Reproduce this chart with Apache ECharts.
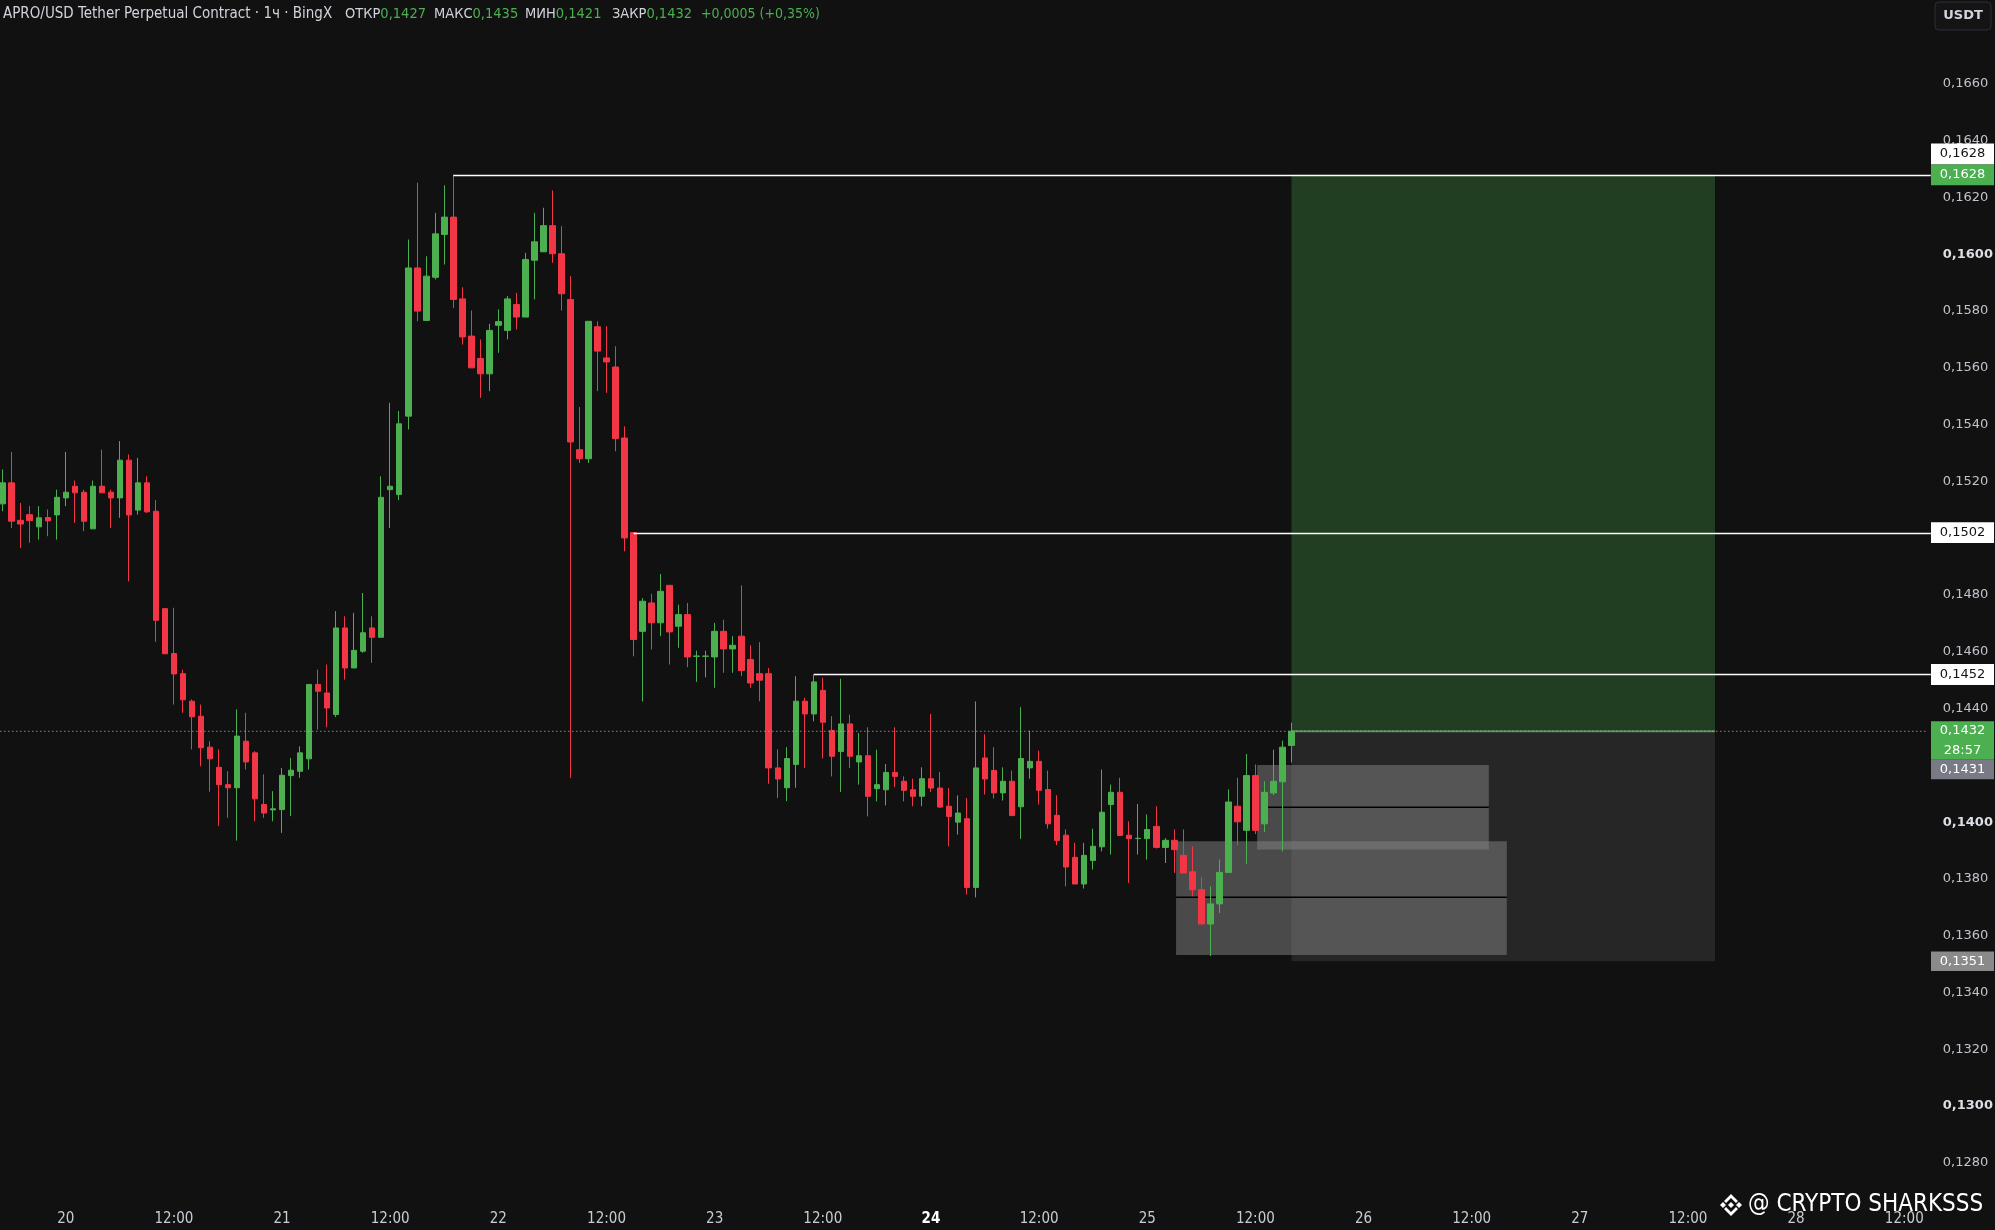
<!DOCTYPE html>
<html><head><meta charset="utf-8">
<script src="https://cdn.jsdelivr.net/npm/echarts@6/dist/echarts.min.js"></script>
<style>html,body{margin:0;padding:0;background:#111111;}#c{width:1995px;height:1230px;}</style>
</head><body><div id="c"></div><script>
// ---------- data ----------
const firstDay = 19, firstHour = 17, hourCount = 214;   // hourly categories: 19th 17:00 .. 28th 14:00
const boldDays = [24];
// [open, close, low, high]
const candles = [
[0.15121,0.15195,0.15095,0.15242],[0.15195,0.15060,0.15036,0.15304],[0.15063,0.15050,0.14966,0.15124],[0.15083,0.15062,0.14984,0.15113],
[0.15040,0.15072,0.14995,0.15113],[0.15073,0.15061,0.15007,0.15101],[0.15082,0.15144,0.14995,0.15171],[0.15142,0.15162,0.15113,0.15304],
[0.15183,0.15160,0.15054,0.15203],[0.15162,0.15060,0.15025,0.15171],[0.15033,0.15183,0.15033,0.15203],[0.15183,0.15160,0.15160,0.15312],
[0.15162,0.15142,0.15036,0.15171],[0.15142,0.15275,0.15072,0.15342],[0.15275,0.15082,0.14848,0.15295],[0.15099,0.15195,0.15083,0.15283],
[0.15195,0.15093,0.15089,0.15218],[0.15095,0.14711,0.14635,0.15134],[0.14752,0.14593,0.14593,0.14752],[0.14594,0.14522,0.14414,0.14755],
[0.14523,0.14431,0.14385,0.14537],[0.14426,0.14371,0.14256,0.14432],[0.14373,0.14262,0.14197,0.14414],[0.14264,0.14223,0.14107,0.14285],
[0.14193,0.14132,0.13986,0.14256],[0.14132,0.14121,0.14015,0.14179],[0.14121,0.14303,0.13935,0.14397],[0.14285,0.14212,0.14185,0.14385],
[0.14244,0.14082,0.14003,0.14250],[0.14062,0.14032,0.14015,0.14168],[0.14043,0.14047,0.14003,0.14109],[0.14044,0.14165,0.13962,0.14191],
[0.14164,0.14183,0.14021,0.14226],[0.14179,0.14244,0.14156,0.14267],[0.14223,0.14485,0.14185,0.14485],[0.14485,0.14461,0.14326,0.14537],
[0.14455,0.14402,0.14334,0.14555],[0.14379,0.14684,0.14370,0.14743],[0.14684,0.14543,0.14502,0.14725],[0.14543,0.14605,0.14543,0.14737],
[0.14602,0.14667,0.14596,0.14807],[0.14684,0.14651,0.14561,0.14725],[0.14651,0.15144,0.14651,0.15218],[0.15171,0.15183,0.15036,0.15477],
[0.15154,0.15403,0.15134,0.15448],[0.15430,0.15952,0.15383,0.16052],[0.15952,0.15800,0.15764,0.16252],[0.15767,0.15923,0.15767,0.15993],
[0.15919,0.16072,0.15911,0.16146],[0.16070,0.16131,0.15964,0.16243],[0.16131,0.15841,0.15811,0.16280],[0.15843,0.15709,0.15682,0.15884],
[0.15712,0.15600,0.15600,0.15802],[0.15633,0.15579,0.15494,0.15700],[0.15579,0.15732,0.15518,0.15755],[0.15750,0.15763,0.15653,0.15806],
[0.15732,0.15843,0.15700,0.15853],[0.15823,0.15779,0.15735,0.15864],[0.15779,0.15982,0.15779,0.16005],[0.15979,0.16044,0.15841,0.16146],
[0.16009,0.16101,0.16009,0.16164],[0.16101,0.16002,0.15970,0.16225],[0.16002,0.15861,0.15802,0.16099],[0.15841,0.15339,0.14155,0.15923],
[0.15312,0.15280,0.15265,0.15462],[0.15280,0.15764,0.15265,0.15764],[0.15745,0.15659,0.15518,0.15764],[0.15635,0.15621,0.15512,0.15747],
[0.15603,0.15351,0.15306,0.15676],[0.15353,0.15001,0.14954,0.15394],[0.15020,0.14643,0.14584,0.15020],[0.14672,0.14778,0.14425,0.14789],
[0.14772,0.14702,0.14608,0.14804],[0.14702,0.14813,0.14655,0.14874],[0.14834,0.14670,0.14555,0.14834],[0.14690,0.14731,0.14614,0.14766],
[0.14731,0.14582,0.14546,0.14772],[0.14584,0.14585,0.14494,0.14604],[0.14584,0.14585,0.14510,0.14604],[0.14582,0.14672,0.14473,0.14702],
[0.14672,0.14610,0.14526,0.14713],[0.14610,0.14623,0.14526,0.14655],[0.14655,0.14534,0.14514,0.14834],[0.14573,0.14490,0.14473,0.14623],
[0.14523,0.14500,0.14426,0.14634],[0.14523,0.14191,0.14135,0.14543],[0.14191,0.14152,0.14085,0.14256],[0.14121,0.14224,0.14074,0.14264],
[0.14203,0.14426,0.14121,0.14514],[0.14426,0.14381,0.14191,0.14438],[0.14381,0.14494,0.14355,0.14520],[0.14464,0.14352,0.14224,0.14508],
[0.14323,0.14232,0.14161,0.14373],[0.14249,0.14346,0.14106,0.14505],[0.14346,0.14232,0.14191,0.14379],[0.14212,0.14234,0.14132,0.14314],
[0.14234,0.14091,0.14020,0.14334],[0.14118,0.14132,0.14073,0.14255],[0.14114,0.14175,0.14059,0.14205],[0.14175,0.14161,0.14123,0.14334],
[0.14144,0.14112,0.14073,0.14161],[0.14114,0.14091,0.14056,0.14153],[0.14091,0.14153,0.14056,0.14193],[0.14153,0.14120,0.14106,0.14381],
[0.14120,0.14053,0.14050,0.14177],[0.14056,0.14020,0.13915,0.14120],[0.14000,0.14032,0.13956,0.14094],[0.14012,0.13770,0.13745,0.14085],
[0.13770,0.14191,0.13735,0.14425],[0.14226,0.14152,0.14097,0.14310],[0.14182,0.14103,0.14083,0.14264],[0.14103,0.14144,0.14076,0.14193],
[0.14144,0.14023,0.14023,0.14182],[0.14054,0.14224,0.13941,0.14405],[0.14191,0.14214,0.14153,0.14322],[0.14214,0.14112,0.14062,0.14252],
[0.14115,0.13994,0.13977,0.14182],[0.14024,0.13935,0.13919,0.14095],[0.13954,0.13842,0.13774,0.13974],[0.13876,0.13782,0.13782,0.13927],
[0.13782,0.13883,0.13766,0.13927],[0.13865,0.13915,0.13833,0.13977],[0.13913,0.14035,0.13897,0.14185],[0.14062,0.14105,0.13886,0.14132],
[0.14105,0.13953,0.13953,0.14156],[0.13954,0.13942,0.13786,0.14003],[0.13942,0.13943,0.13886,0.14064],[0.13942,0.13974,0.13868,0.14027],
[0.13985,0.13911,0.13907,0.14056],[0.13911,0.13936,0.13856,0.13944],[0.13936,0.13903,0.13821,0.13974],[0.13883,0.13821,0.13821,0.13974],
[0.13825,0.13762,0.13739,0.13915],[0.13762,0.13641,0.13641,0.13806],[0.13641,0.13712,0.13528,0.13774],[0.13712,0.13823,0.13680,0.13868],
[0.13823,0.14071,0.13823,0.14115],[0.14056,0.14001,0.13919,0.14156],[0.13971,0.14164,0.13853,0.14240],[0.14164,0.13971,0.13958,0.14203],
[0.13994,0.14105,0.13965,0.14144],[0.14103,0.14144,0.14095,0.14255],[0.14142,0.14264,0.13897,0.14287],[0.1427,0.1432,0.1421,0.1435]
];
// horizontal levels: price and first candle index
const levelPrices = [0.1628, 0.1502, 0.1452];
const levelStarts = [50, 70, 90];
// long position tool
const entryPrice = 0.1432, targetPrice = 0.1628, stopPrice = 0.1351;
const positionSpan = [143, 190];
// order blocks
const obFrom = [139.2, 130.2], obTo = [164.9, 166.9], obMidFrom = [140.4, 130.2];
const obTop = [0.14201, 0.13933], obBottom = [0.13904, 0.13532], obMid = [0.14052, 0.13735];
// price scale
const lastPrice = 0.1432, bidPrice = 0.1431, countdown = '28:57';
const hiddenTicks = [0.1260, 0.1420, 0.1500, 0.1680, 0.1700];
const boldTicks = [0.1300, 0.1400, 0.1600];
const headerLabels = ['ОТКР', 'МАКС', 'МИН', 'ЗАКР'];
const changeText = '+0,0005 (+0,35%)';

// ---------- helpers ----------
const fmt = v => v.toFixed(4).replace('.', ',');
const categories = [];
for (let i = 0; i < hourCount; i++) {
  const t = firstHour + i;
  categories.push((firstDay + Math.floor(t / 24)) + ' ' + String(t % 24).padStart(2, '0') + ':00');
}
const hourOf = v => parseInt(v.split(' ')[1], 10);
const dayOf = v => parseInt(v.split(' ')[0], 10);
const same = (a, b) => Math.round(a * 10000) === Math.round(b * 10000);
function xAt(api, v) {
  const i = Math.floor(v);
  return api.coord([i, 0.15])[0] + (v - i) * api.size([1, 0])[0];
}
const yAt = (api, p) => api.coord([0, p])[1];
const NARROW = '"Liberation Sans Narrow","DejaVu Sans Condensed",sans-serif';
const UP = '#4caf50', DOWN = '#f23645';

const last = candles[candles.length - 1];
const headerValues = [last[0], last[3], last[2], last[1]].map(fmt);

const chart = echarts.init(document.getElementById('c'), null, {renderer: 'canvas', width: 1995, height: 1230});
chart.setOption({
  backgroundColor: '#111111',
  animation: false,
  grid: {left: -1.8, right: 68.2, top: -29.6, bottom: 10.4, outerBoundsMode: 'none', containLabel: false},
  xAxis: {
    type: 'category', data: categories, boundaryGap: true, offset: -15,
    axisLine: {show: false}, axisTick: {show: false}, splitLine: {show: false},
    axisLabel: {
      interval: (i, v) => hourOf(v) % 12 === 0,
      formatter: v => hourOf(v) === 0 ? (boldDays.includes(dayOf(v)) ? '{b|' + dayOf(v) + '}' : String(dayOf(v))) : '12:00',
      color: '#c9ccd4', fontSize: 15, fontFamily: NARROW, margin: 7,
      rich: {b: {fontWeight: 'bold', color: '#ffffff', fontSize: 15, fontFamily: NARROW}}
    }
  },
  yAxis: {
    type: 'value', position: 'right', min: 0.126, max: 0.170, interval: 0.002,
    axisLine: {show: false}, axisTick: {show: false}, splitLine: {show: false},
    axisLabel: {
      margin: 16, color: '#c0c3cb', fontSize: 13, fontFamily: '"DejaVu Sans",sans-serif',
      formatter: v => hiddenTicks.some(h => same(h, v)) ? '' : (boldTicks.some(b => same(b, v)) ? '{b|' + fmt(v) + '}' : fmt(v)),
      rich: {b: {fontWeight: 'bold', color: '#dcdfe6', fontSize: 13, fontFamily: '"DejaVu Sans",sans-serif'}}
    }
  },
  series: [
    { // position tool + order blocks (under candles)
      type: 'custom', z: 1, silent: true, data: [[0, 0.15]],
      renderItem: (params, api) => {
        const x1 = xAt(api, positionSpan[0]), x2 = xAt(api, positionSpan[1]);
        const yT = yAt(api, targetPrice), yE = yAt(api, entryPrice), yS = yAt(api, stopPrice);
        const kids = [
          {type: 'rect', shape: {x: x1, y: yT, width: x2 - x1, height: yE - yT}, style: {fill: '#213e22'}},
          {type: 'rect', shape: {x: x1, y: yE, width: x2 - x1, height: yS - yE}, style: {fill: '#262626'}},
          {type: 'line', shape: {x1: x1, y1: yE, x2: x2, y2: yE}, style: {stroke: '#5b8a5c', lineWidth: 2}}
        ];
        for (let k = 0; k < obTop.length; k++) {
          const a = xAt(api, obFrom[k]), b = xAt(api, obTo[k]);
          const t = yAt(api, obTop[k]), btm = yAt(api, obBottom[k]), m = yAt(api, obMid[k]);
          kids.push({type: 'rect', shape: {x: a, y: t, width: b - a, height: btm - t}, style: {fill: 'rgba(132,132,132,0.5)'}});
          kids.push({type: 'line', shape: {x1: xAt(api, obMidFrom[k]), y1: m, x2: b, y2: m}, style: {stroke: '#000000', lineWidth: 1.5}});
        }
        return {type: 'group', children: kids};
      }
    },
    {
      type: 'candlestick', data: candles, z: 3, barWidth: 6, silent: true,
      itemStyle: {color: UP, color0: DOWN, borderColor: UP, borderColor0: DOWN, borderWidth: 1}
    },
    { // levels and last-price line
      type: 'custom', z: 4, silent: true, clip: false, data: [[0, 0.15]],
      renderItem: (params, api) => {
        const cs = params.coordSys;
        const right = cs.x + cs.width;
        const kids = [];
        const yL = yAt(api, lastPrice);
        kids.push({type: 'line', shape: {x1: 0, y1: yL, x2: right, y2: yL}, style: {stroke: 'rgba(175,175,160,0.75)', lineWidth: 1, lineDash: [1.5, 2.5]}});
        levelPrices.forEach((p, k) => {
          const y = Math.round(yAt(api, p)) + 0.5;
          kids.push({type: 'line', shape: {x1: xAt(api, levelStarts[k]), y1: y, x2: right + 4, y2: y}, style: {stroke: '#ffffff', lineWidth: 1.4}});
        });
        return {type: 'group', children: kids};
      }
    },
    { // price tags on the scale
      type: 'custom', z: 10, silent: true, clip: false, data: [[0, 0.15]],
      renderItem: (params, api) => {
        const X = 1931, W = 63, H = 20.8;
        const kids = [];
        const tag = (top, h, bg, lines, fg) => {
          kids.push({type: 'rect', shape: {x: X, y: top, width: W, height: h}, style: {fill: bg}});
          lines.forEach((t, k) => kids.push({
            type: 'text', x: X + W / 2, y: top + (k + 0.5) * h / lines.length,
            style: {text: t, fill: fg, font: '13px "DejaVu Sans",sans-serif', align: 'center', verticalAlign: 'middle'}
          }));
        };
        const yT = yAt(api, targetPrice);
        tag(yT - H / 2 - H, H, '#ffffff', [fmt(levelPrices[0])], '#131313');
        tag(yT - H / 2, H, UP, [fmt(targetPrice)], '#ffffff');
        tag(yAt(api, levelPrices[1]) - H / 2, H, '#ffffff', [fmt(levelPrices[1])], '#131313');
        tag(yAt(api, levelPrices[2]) - H / 2, H, '#ffffff', [fmt(levelPrices[2])], '#131313');
        const yL = yAt(api, lastPrice);
        tag(yL - 10, 38.5, UP, [fmt(lastPrice), countdown], '#ffffff');
        tag(yL - 10 + 38.5, 19.5, '#787b86', [fmt(bidPrice)], '#ffffff');
        tag(yAt(api, stopPrice) - 9.7, 19.4, '#8a8a8a', [fmt(stopPrice)], '#ffffff');
        return {type: 'group', children: kids};
      }
    }
  ],
  graphic: [
    {type: 'text', x: 3, y: 14, style: {text: 'APRO/USD Tether Perpetual Contract · 1ч · BingX', fill: '#d1d4dc', font: '15px ' + NARROW, verticalAlign: 'middle'}},
    ...headerLabels.map((l, k) => ({
      type: 'text', x: [345, 434, 525, 612][k], y: 14,
      style: {text: '{l|' + l + '}{v|' + headerValues[k] + '}', verticalAlign: 'middle',
        rich: {l: {fill: '#d1d4dc', fontSize: 14.5, fontFamily: NARROW}, v: {fill: UP, fontSize: 14.5, fontFamily: NARROW}}}
    })),
    {type: 'text', x: 701, y: 14, style: {text: changeText, fill: UP, font: '14px ' + NARROW, verticalAlign: 'middle'}},
    {type: 'rect', shape: {x: 1935, y: 2, width: 56, height: 28, r: 4}, style: {fill: '#141414', stroke: '#2a2e39', lineWidth: 1}},
    {type: 'text', x: 1963, y: 16, style: {text: 'USDT', fill: '#d1d4dc', font: 'bold 13px "DejaVu Sans",sans-serif', align: 'center', verticalAlign: 'middle'}},
    { // watermark logo
      type: 'group', x: 1719, y: 1193,
      children: [
        {type: 'polygon', shape: {points: [[12, 9], [15, 12], [12, 15], [9, 12]]}, style: {fill: '#ffffff'}},
        {type: 'polygon', shape: {points: [[4, 9], [7, 12], [4, 15], [1, 12]]}, style: {fill: '#ffffff'}},
        {type: 'polygon', shape: {points: [[20, 9], [23, 12], [20, 15], [17, 12]]}, style: {fill: '#ffffff'}},
        {type: 'polygon', shape: {points: [[12, 1], [19, 8], [17, 10], [12, 5], [7, 10], [5, 8]]}, style: {fill: '#ffffff'}},
        {type: 'polygon', shape: {points: [[12, 23], [19, 16], [17, 14], [12, 19], [7, 14], [5, 16]]}, style: {fill: '#ffffff'}}
      ]
    },
    {type: 'text', x: 1748, y: 1205, style: {text: '@ CRYPTO SHARKSSS', fill: '#ffffff', font: '24px ' + NARROW, verticalAlign: 'middle'}}
  ]
});
</script></body></html>
